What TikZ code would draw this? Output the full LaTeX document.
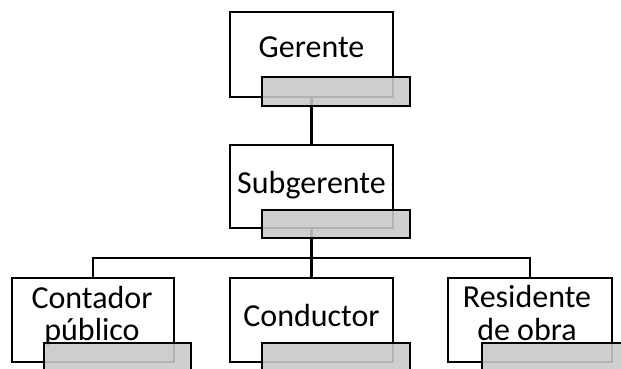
\documentclass[tikz,border=0pt]{standalone}
\usepackage{fontspec}
\setmainfont{Carlito}
\begin{document}
\begin{tikzpicture}[x=1pt,y=-1pt,
  conn/.style={line width=2.8pt},
  wbox/.style={draw=black,fill=white,line width=2.9pt},
  gbox/.style={draw=black,fill=black!21,fill opacity=0.89,line width=2.9pt},
  lbl/.style={anchor=base,inner sep=0pt,font=\fontsize{32}{32}\selectfont}]
\useasboundingbox (0,0) rectangle (621,369);
% coordinates of box outlines
\coordinate (gA) at (230,12); \coordinate (gB) at (393,97);
\coordinate (sA) at (230,145); \coordinate (sB) at (393,228);
\coordinate (cA) at (12,278); \coordinate (cB) at (174,362);
\coordinate (dA) at (230,278); \coordinate (dB) at (393,362);
\coordinate (rA) at (448,278); \coordinate (rB) at (612,362);
% connectors
\coordinate (gbot) at (311.5,97);
\coordinate (stop) at (311.5,145);
\coordinate (sbot) at (311.5,228);
\coordinate (bus) at (311.5,258);
\coordinate (ctop) at (93,278);
\coordinate (dtop) at (311.5,278);
\coordinate (rtop) at (530,278);
\draw[conn] (gbot) -- (stop);
\draw[conn] (sbot) -- (bus);
\draw[conn] (ctop) |- (bus) -| (rtop);
\draw[conn] (bus) -- (dtop);
% white boxes
\draw[wbox] (gA) rectangle (gB);
\draw[wbox] (sA) rectangle (sB);
\draw[wbox] (cA) rectangle (cB);
\draw[wbox] (dA) rectangle (dB);
\draw[wbox] (rA) rectangle (rB);
% texts
\node[lbl] (tg) at (311.5,58) {Gerente};
\node[lbl] (ts) at (311.5,193.3) {Subgerente};
\node[lbl] (tc1) at (92,308.3) {Contador};
\node[lbl] (tc2) at (92,340.7) {público};
\node[lbl] (td) at (311.5,326) {Conductor};
\node[lbl] (tr1) at (527,307.3) {Residente};
\node[lbl] (tr2) at (527,340) {de obra};
% gray boxes
\draw[gbox] (262,77) rectangle (410,106);
\draw[gbox] (262,210) rectangle (410,238);
\draw[gbox] (44,343) rectangle (191,380);
\draw[gbox] (262,343) rectangle (410,380);
\draw[gbox] (482,343) rectangle (630,380);
\end{tikzpicture}
\end{document}
